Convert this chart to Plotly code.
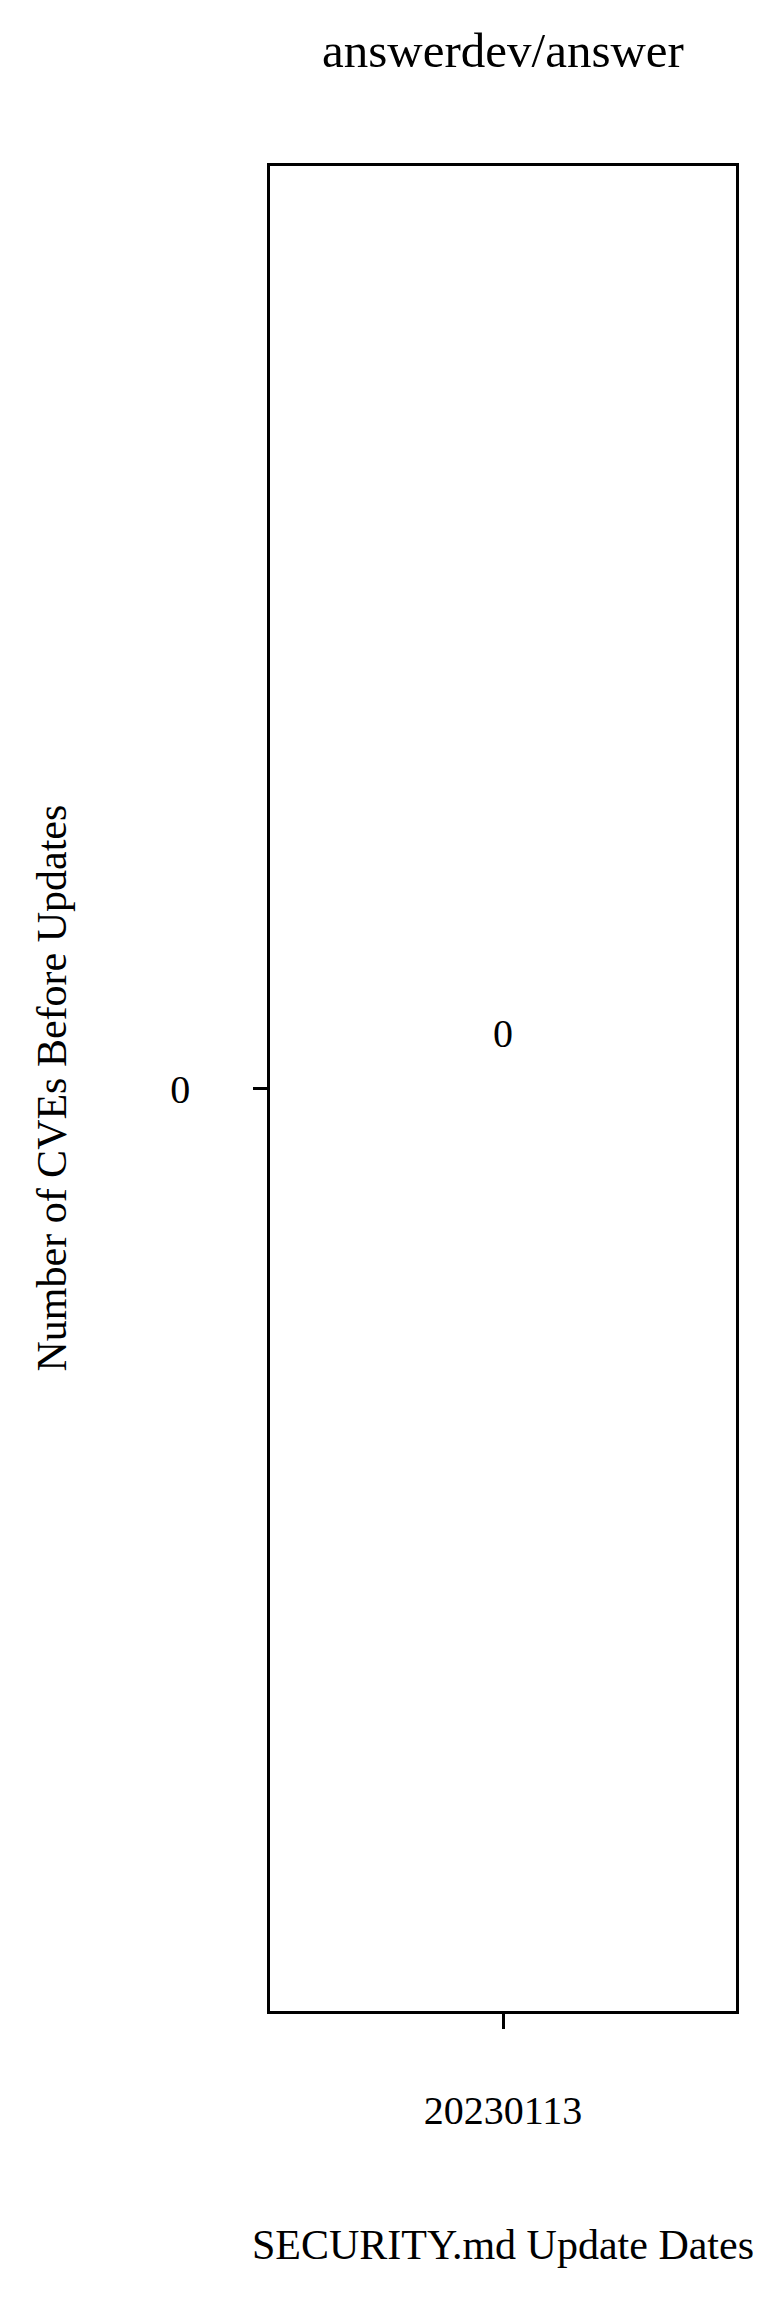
import plotly.graph_objects as go

dates = ["20230113"]
cve_counts = [0]
y_ticks = [0]
title_text = "answerdev/answer"
x_title = "SECURITY.md Update Dates"
y_title = "Number of CVEs Before Updates"

FONT = "Liberation Serif, Times New Roman, serif"

W, H = 757, 2292
L, R, T, B = 262, 29, 158, 289
PW, PH = W - L - R, H - T - B

fig = go.Figure()
fig.add_trace(go.Bar(x=dates, y=cve_counts, marker_color="#1f77b4",
                     marker_line_width=0, width=0.6,
                     showlegend=False, hoverinfo="x+y"))

for i, v in enumerate(cve_counts):
    fig.add_annotation(x=i, y=v, text=str(v), showarrow=False, yshift=55,
                       font=dict(family=FONT, size=40, color="black"))

fig.add_annotation(text=title_text, xref="paper", yref="paper", x=0.5,
                   y=1 + (T - 43) / PH, yanchor="middle", showarrow=False,
                   font=dict(family=FONT, size=49, color="black"))
fig.add_annotation(text=x_title, xref="paper", yref="paper", x=0.5,
                   y=-(2237 - T - PH) / PH, yanchor="middle", showarrow=False,
                   font=dict(family=FONT, size=42, color="black"))
fig.add_annotation(text=y_title, xref="paper", yref="paper",
                   x=-(L - 43) / PW, xanchor="center", y=0.5, yanchor="middle",
                   textangle=-90, showarrow=False,
                   font=dict(family=FONT, size=42, color="black"))

fig.update_layout(
    width=W, height=H,
    margin=dict(l=L, r=R, t=T, b=B),
    paper_bgcolor="white", plot_bgcolor="white",
    font=dict(family=FONT, size=40, color="black"),
    showlegend=False,
)
fig.update_xaxes(type="category", range=[-0.5, 0.5], showline=True, mirror=True,
                 linecolor="black", linewidth=2.5, ticks="outside", ticklen=15,
                 tickwidth=2.5, tickcolor="black", showgrid=False, zeroline=False,
                 ticklabelstandoff=47, tickfont=dict(family=FONT, size=40))
fig.update_yaxes(range=[-1, 1], tickvals=y_ticks, ticktext=[str(t) for t in y_ticks],
                 showline=True, mirror=True, linecolor="black", linewidth=2.5,
                 ticks="outside", ticklen=14, tickwidth=2.5, tickcolor="black",
                 showgrid=False, zeroline=False, ticklabelstandoff=55,
                 tickfont=dict(family=FONT, size=40))

fig.write_html("out.html")
